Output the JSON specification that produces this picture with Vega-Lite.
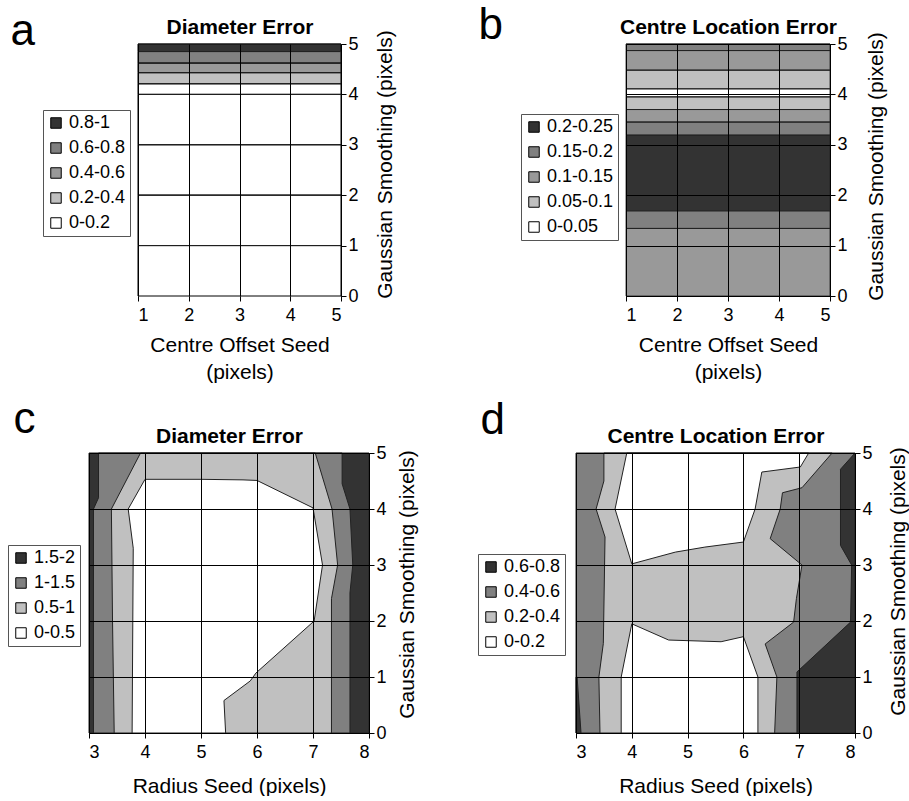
{
  "$schema": "https://vega.github.io/schema/vega-lite/v6.json",
  "background": "white",
  "padding": {"left": 7, "top": 4, "right": 0, "bottom": 0},
  "datasets": {
    "A": [
      {"x0": 1, "x1": 5, "y0": 4.85, "y1": 5, "cls": "0.8-1"},
      {"x0": 1, "x1": 5, "y0": 4.62, "y1": 4.85, "cls": "0.6-0.8"},
      {"x0": 1, "x1": 5, "y0": 4.43, "y1": 4.62, "cls": "0.4-0.6"},
      {"x0": 1, "x1": 5, "y0": 4.21, "y1": 4.43, "cls": "0.2-0.4"},
      {"x0": 1, "x1": 5, "y0": 4, "y1": 4.21, "cls": "0-0.2"},
      {"x0": 1, "x1": 5, "y0": 3, "y1": 4, "cls": "0-0.2"},
      {"x0": 1, "x1": 5, "y0": 2, "y1": 3, "cls": "0-0.2"},
      {"x0": 1, "x1": 5, "y0": 1, "y1": 2, "cls": "0-0.2"},
      {"x0": 1, "x1": 5, "y0": 0, "y1": 1, "cls": "0-0.2"}
    ],
    "B": [
      {"x0": 1, "x1": 5, "y0": 4.87, "y1": 5, "cls": "0.15-0.2"},
      {"x0": 1, "x1": 5, "y0": 4.48, "y1": 4.87, "cls": "0.1-0.15"},
      {"x0": 1, "x1": 5, "y0": 4.11, "y1": 4.48, "cls": "0.05-0.1"},
      {"x0": 1, "x1": 5, "y0": 3.95, "y1": 4.11, "cls": "0-0.05"},
      {"x0": 1, "x1": 5, "y0": 3.7, "y1": 3.95, "cls": "0.05-0.1"},
      {"x0": 1, "x1": 5, "y0": 3.45, "y1": 3.7, "cls": "0.1-0.15"},
      {"x0": 1, "x1": 5, "y0": 3.19, "y1": 3.45, "cls": "0.15-0.2"},
      {"x0": 1, "x1": 5, "y0": 1.69, "y1": 3.19, "cls": "0.2-0.25"},
      {"x0": 1, "x1": 5, "y0": 1.34, "y1": 1.69, "cls": "0.15-0.2"},
      {"x0": 1, "x1": 5, "y0": 0, "y1": 1.34, "cls": "0.1-0.15"}
    ],
    "C": [
      {"poly": "c_bg", "cls": "1.5-2", "i": 0, "x": 3, "y": 0},
      {"poly": "c_bg", "cls": "1.5-2", "i": 1, "x": 3, "y": 5},
      {"poly": "c_bg", "cls": "1.5-2", "i": 2, "x": 8, "y": 5},
      {"poly": "c_bg", "cls": "1.5-2", "i": 3, "x": 8, "y": 0},
      {"poly": "c_bg", "cls": "1.5-2", "i": 4, "x": 3, "y": 0},
      {"poly": "c_mid", "cls": "1-1.5", "i": 0, "x": 3.08, "y": 0},
      {"poly": "c_mid", "cls": "1-1.5", "i": 1, "x": 3.08, "y": 4.0},
      {"poly": "c_mid", "cls": "1-1.5", "i": 2, "x": 3.17, "y": 4.2},
      {"poly": "c_mid", "cls": "1-1.5", "i": 3, "x": 3.17, "y": 5},
      {"poly": "c_mid", "cls": "1-1.5", "i": 4, "x": 7.52, "y": 5},
      {"poly": "c_mid", "cls": "1-1.5", "i": 5, "x": 7.52, "y": 4.45},
      {"poly": "c_mid", "cls": "1-1.5", "i": 6, "x": 7.66, "y": 4.0},
      {"poly": "c_mid", "cls": "1-1.5", "i": 7, "x": 7.71, "y": 3.0},
      {"poly": "c_mid", "cls": "1-1.5", "i": 8, "x": 7.66, "y": 2.5},
      {"poly": "c_mid", "cls": "1-1.5", "i": 9, "x": 7.66, "y": 0},
      {"poly": "c_mid", "cls": "1-1.5", "i": 10, "x": 3.08, "y": 0},
      {"poly": "c_light", "cls": "0.5-1", "i": 0, "x": 3.45, "y": 0},
      {"poly": "c_light", "cls": "0.5-1", "i": 1, "x": 3.42, "y": 2.0},
      {"poly": "c_light", "cls": "0.5-1", "i": 2, "x": 3.4, "y": 4.0},
      {"poly": "c_light", "cls": "0.5-1", "i": 3, "x": 3.92, "y": 5},
      {"poly": "c_light", "cls": "0.5-1", "i": 4, "x": 7.04, "y": 5},
      {"poly": "c_light", "cls": "0.5-1", "i": 5, "x": 7.34, "y": 4.0},
      {"poly": "c_light", "cls": "0.5-1", "i": 6, "x": 7.44, "y": 3.0},
      {"poly": "c_light", "cls": "0.5-1", "i": 7, "x": 7.33, "y": 2.4},
      {"poly": "c_light", "cls": "0.5-1", "i": 8, "x": 7.33, "y": 0},
      {"poly": "c_light", "cls": "0.5-1", "i": 9, "x": 3.45, "y": 0},
      {"poly": "c_white", "cls": "0-0.5", "i": 0, "x": 3.77, "y": 0},
      {"poly": "c_white", "cls": "0-0.5", "i": 1, "x": 3.79, "y": 3.3},
      {"poly": "c_white", "cls": "0-0.5", "i": 2, "x": 3.7, "y": 4.0},
      {"poly": "c_white", "cls": "0-0.5", "i": 3, "x": 4.0, "y": 4.53},
      {"poly": "c_white", "cls": "0-0.5", "i": 4, "x": 5.0, "y": 4.53},
      {"poly": "c_white", "cls": "0-0.5", "i": 5, "x": 5.75, "y": 4.52},
      {"poly": "c_white", "cls": "0-0.5", "i": 6, "x": 6.0, "y": 4.51},
      {"poly": "c_white", "cls": "0-0.5", "i": 7, "x": 7.0, "y": 4.02},
      {"poly": "c_white", "cls": "0-0.5", "i": 8, "x": 7.17, "y": 3.0},
      {"poly": "c_white", "cls": "0-0.5", "i": 9, "x": 7.02, "y": 2.0},
      {"poly": "c_white", "cls": "0-0.5", "i": 10, "x": 5.98, "y": 1.07},
      {"poly": "c_white", "cls": "0-0.5", "i": 11, "x": 5.88, "y": 0.93},
      {"poly": "c_white", "cls": "0-0.5", "i": 12, "x": 5.41, "y": 0.58},
      {"poly": "c_white", "cls": "0-0.5", "i": 13, "x": 5.44, "y": 0},
      {"poly": "c_white", "cls": "0-0.5", "i": 14, "x": 3.77, "y": 0}
    ],
    "D": [
      {"poly": "d_bg", "cls": "0.4-0.6", "i": 0, "x": 3, "y": 0},
      {"poly": "d_bg", "cls": "0.4-0.6", "i": 1, "x": 3, "y": 5},
      {"poly": "d_bg", "cls": "0.4-0.6", "i": 2, "x": 8, "y": 5},
      {"poly": "d_bg", "cls": "0.4-0.6", "i": 3, "x": 8, "y": 0},
      {"poly": "d_bg", "cls": "0.4-0.6", "i": 4, "x": 3, "y": 0},
      {"poly": "d_dark1", "cls": "0.6-0.8", "i": 0, "x": 6.96, "y": 0},
      {"poly": "d_dark1", "cls": "0.6-0.8", "i": 1, "x": 6.96, "y": 1.09},
      {"poly": "d_dark1", "cls": "0.6-0.8", "i": 2, "x": 7.92, "y": 1.98},
      {"poly": "d_dark1", "cls": "0.6-0.8", "i": 3, "x": 7.94, "y": 3.0},
      {"poly": "d_dark1", "cls": "0.6-0.8", "i": 4, "x": 7.74, "y": 3.35},
      {"poly": "d_dark1", "cls": "0.6-0.8", "i": 5, "x": 7.74, "y": 4.71},
      {"poly": "d_dark1", "cls": "0.6-0.8", "i": 6, "x": 8, "y": 5},
      {"poly": "d_dark1", "cls": "0.6-0.8", "i": 7, "x": 8, "y": 0},
      {"poly": "d_dark1", "cls": "0.6-0.8", "i": 8, "x": 6.96, "y": 0},
      {"poly": "d_dark2", "cls": "0.6-0.8", "i": 0, "x": 3, "y": 0},
      {"poly": "d_dark2", "cls": "0.6-0.8", "i": 1, "x": 3.09, "y": 0},
      {"poly": "d_dark2", "cls": "0.6-0.8", "i": 2, "x": 3.02, "y": 1.0},
      {"poly": "d_dark2", "cls": "0.6-0.8", "i": 3, "x": 3, "y": 1.0},
      {"poly": "d_dark2", "cls": "0.6-0.8", "i": 4, "x": 3, "y": 0},
      {"poly": "d_light", "cls": "0.2-0.4", "i": 0, "x": 3.43, "y": 0},
      {"poly": "d_light", "cls": "0.2-0.4", "i": 1, "x": 3.41, "y": 1.0},
      {"poly": "d_light", "cls": "0.2-0.4", "i": 2, "x": 3.49, "y": 1.6},
      {"poly": "d_light", "cls": "0.2-0.4", "i": 3, "x": 3.52, "y": 3.5},
      {"poly": "d_light", "cls": "0.2-0.4", "i": 4, "x": 3.36, "y": 4.0},
      {"poly": "d_light", "cls": "0.2-0.4", "i": 5, "x": 3.5, "y": 4.5},
      {"poly": "d_light", "cls": "0.2-0.4", "i": 6, "x": 3.5, "y": 5},
      {"poly": "d_light", "cls": "0.2-0.4", "i": 7, "x": 7.59, "y": 5},
      {"poly": "d_light", "cls": "0.2-0.4", "i": 8, "x": 7.05, "y": 4.38},
      {"poly": "d_light", "cls": "0.2-0.4", "i": 9, "x": 6.7, "y": 4.29},
      {"poly": "d_light", "cls": "0.2-0.4", "i": 10, "x": 6.66, "y": 4.0},
      {"poly": "d_light", "cls": "0.2-0.4", "i": 11, "x": 6.48, "y": 3.47},
      {"poly": "d_light", "cls": "0.2-0.4", "i": 12, "x": 7.05, "y": 3.0},
      {"poly": "d_light", "cls": "0.2-0.4", "i": 13, "x": 6.95, "y": 2.4},
      {"poly": "d_light", "cls": "0.2-0.4", "i": 14, "x": 6.9, "y": 1.98},
      {"poly": "d_light", "cls": "0.2-0.4", "i": 15, "x": 6.39, "y": 1.59},
      {"poly": "d_light", "cls": "0.2-0.4", "i": 16, "x": 6.6, "y": 1.0},
      {"poly": "d_light", "cls": "0.2-0.4", "i": 17, "x": 6.56, "y": 0},
      {"poly": "d_light", "cls": "0.2-0.4", "i": 18, "x": 3.43, "y": 0},
      {"poly": "d_white1", "cls": "0-0.2", "i": 0, "x": 3.91, "y": 5},
      {"poly": "d_white1", "cls": "0-0.2", "i": 1, "x": 3.7, "y": 4.0},
      {"poly": "d_white1", "cls": "0-0.2", "i": 2, "x": 4.0, "y": 3.02},
      {"poly": "d_white1", "cls": "0-0.2", "i": 3, "x": 4.78, "y": 3.23},
      {"poly": "d_white1", "cls": "0-0.2", "i": 4, "x": 5.31, "y": 3.32},
      {"poly": "d_white1", "cls": "0-0.2", "i": 5, "x": 6.0, "y": 3.41},
      {"poly": "d_white1", "cls": "0-0.2", "i": 6, "x": 6.21, "y": 4.0},
      {"poly": "d_white1", "cls": "0-0.2", "i": 7, "x": 6.33, "y": 4.66},
      {"poly": "d_white1", "cls": "0-0.2", "i": 8, "x": 7.02, "y": 4.75},
      {"poly": "d_white1", "cls": "0-0.2", "i": 9, "x": 7.17, "y": 5},
      {"poly": "d_white1", "cls": "0-0.2", "i": 10, "x": 3.91, "y": 5},
      {"poly": "d_white2", "cls": "0-0.2", "i": 0, "x": 3.81, "y": 0},
      {"poly": "d_white2", "cls": "0-0.2", "i": 1, "x": 3.81, "y": 1.0},
      {"poly": "d_white2", "cls": "0-0.2", "i": 2, "x": 4.0, "y": 1.95},
      {"poly": "d_white2", "cls": "0-0.2", "i": 3, "x": 4.66, "y": 1.66},
      {"poly": "d_white2", "cls": "0-0.2", "i": 4, "x": 5.6, "y": 1.63},
      {"poly": "d_white2", "cls": "0-0.2", "i": 5, "x": 6.0, "y": 1.72},
      {"poly": "d_white2", "cls": "0-0.2", "i": 6, "x": 6.26, "y": 1.0},
      {"poly": "d_white2", "cls": "0-0.2", "i": 7, "x": 6.26, "y": 0},
      {"poly": "d_white2", "cls": "0-0.2", "i": 8, "x": 3.81, "y": 0}
    ]
  },
  "concat": [
    {
      "hconcat": [
        {
          "width": 252, "height": 252,
          "title": {"text": "a", "dx": -32, "offset": -38},
          "data": {"name": "A"},
          "layer": [
            {
              "mark": {"type": "rect", "stroke": "#000", "strokeWidth": 1},
              "encoding": {
                "x": {"field": "x0", "type": "quantitative", "scale": {"domain": [1, 5], "range": [49, 252], "nice": false, "zero": false},
                      "axis": {"orient": "bottom", "values": [1, 2, 3, 4, 5], "title": ["Centre Offset Seed", "(pixels)"], "grid": true, "domain": false, "zindex": 1, "labelPadding": 5}},
                "x2": {"field": "x1"},
                "y": {"field": "y0", "type": "quantitative", "scale": {"domain": [0, 5], "nice": false, "zero": false},
                      "axis": {"orient": "right", "values": [0, 1, 2, 3, 4, 5], "title": "Gaussian Smoothing (pixels)", "grid": false, "zindex": 1, "titleAngle": 270, "titleBaseline": "top", "titlePadding": 16, "titleY": 120}},
                "y2": {"field": "y1"},
                "fill": {"field": "cls", "type": "nominal",
                         "scale": {"domain": ["0.8-1", "0.6-0.8", "0.4-0.6", "0.2-0.4", "0-0.2"], "range": ["#333333", "#808080", "#999999", "#c0c0c0", "#ffffff"]},
                         "legend": {"title": null, "orient": "none", "legendX": -46, "legendY": 66}}
              }
            },
            {
              "mark": {"type": "rule", "stroke": "#222", "strokeWidth": 1},
              "encoding": {
                "x": {"field": "x0", "type": "quantitative",
                      "axis": {"orient": "top", "title": "Diameter Error", "labels": false, "ticks": false, "domain": false, "grid": false, "titleFontWeight": "bold", "titlePadding": 7}},
                "x2": {"field": "x1"},
                "y": {"field": "y1", "type": "quantitative"}
              }
            }
          ],
          "resolve": {"axis": {"x": "independent"}}
        },
        {
          "width": 204, "height": 252,
          "title": {"text": "b", "dx": -42, "offset": -32},
          "data": {"name": "B"},
          "layer": [
            {
              "mark": {"type": "rect", "stroke": "#222", "strokeWidth": 0.8},
              "encoding": {
                "x": {"field": "x0", "type": "quantitative", "scale": {"domain": [1, 5], "nice": false, "zero": false},
                      "axis": {"orient": "bottom", "values": [1, 2, 3, 4, 5], "title": ["Centre Offset Seed", "(pixels)"], "grid": true, "zindex": 1, "labelPadding": 5}},
                "x2": {"field": "x1"},
                "y": {"field": "y0", "type": "quantitative", "scale": {"domain": [0, 5], "nice": false, "zero": false},
                      "axis": {"orient": "right", "values": [0, 1, 2, 3, 4, 5], "title": "Gaussian Smoothing (pixels)", "grid": true, "zindex": 1, "titleAngle": 270, "titleBaseline": "top", "titlePadding": 18, "titleY": 122}},
                "y2": {"field": "y1"},
                "fill": {"field": "cls", "type": "nominal",
                         "scale": {"domain": ["0.2-0.25", "0.15-0.2", "0.1-0.15", "0.05-0.1", "0-0.05"], "range": ["#333333", "#808080", "#999999", "#c0c0c0", "#ffffff"]},
                         "legend": {"title": null, "orient": "none", "legendX": -105, "legendY": 70}}
              }
            },
            {
              "mark": {"type": "rule", "stroke": "#222", "strokeWidth": 1},
              "encoding": {
                "x": {"field": "x0", "type": "quantitative",
                      "axis": {"orient": "top", "title": "Centre Location Error", "labels": false, "ticks": false, "domain": false, "grid": false, "titleFontWeight": "bold", "titlePadding": 7}},
                "x2": {"field": "x1"},
                "y": {"field": "y1", "type": "quantitative"}
              }
            }
          ],
          "resolve": {"axis": {"x": "independent"}}
        }
      ],
      "spacing": 82,
      "resolve": {"scale": {"fill": "independent"}, "legend": {"fill": "independent"}}
    },
    {
      "hconcat": [
        {
          "width": 280, "height": 280,
          "title": {"text": "c", "dx": 6, "offset": -17},
          "data": {"name": "C"},
          "encoding": {
            "y": {"field": "y", "type": "quantitative", "scale": {"domain": [0, 5], "nice": false, "zero": false},
                  "axis": {"orient": "right", "values": [0, 1, 2, 3, 4, 5], "title": "Gaussian Smoothing (pixels)", "grid": true, "zindex": 1, "titleAngle": 270, "titleBaseline": "top", "titlePadding": 10, "titleY": 131}},
            "order": {"field": "i", "type": "quantitative"},
            "detail": {"field": "poly", "type": "nominal"},
            "fill": {"field": "cls", "type": "nominal",
                     "scale": {"domain": ["1.5-2", "1-1.5", "0.5-1", "0-0.5"], "range": ["#333333", "#808080", "#c0c0c0", "#ffffff"]},
                     "legend": {"title": null, "orient": "none", "legendX": -81, "legendY": 92, "symbolType": "square"}}
          },
          "layer": [
            {
              "transform": [{"filter": "datum.cls == '1.5-2'"}],
              "mark": {"type": "line", "stroke": "#222", "strokeWidth": 1},
              "encoding": {
                "x": {"field": "x", "type": "quantitative", "scale": {"domain": [3, 8], "nice": false, "zero": false},
                      "axis": {"orient": "bottom", "values": [3, 4, 5, 6, 7, 8], "title": "Radius Seed  (pixels)", "grid": true, "zindex": 1, "labelPadding": 5, "titlePadding": 14}}
              }
            },
            {
              "transform": [{"filter": "datum.cls == '1-1.5'"}],
              "mark": {"type": "line", "stroke": "#222", "strokeWidth": 1},
              "encoding": {
                "x": {"field": "x", "type": "quantitative",
                      "axis": {"orient": "top", "title": "Diameter Error", "labels": false, "ticks": false, "domain": false, "grid": false, "titleFontWeight": "bold", "titlePadding": 7}}
              }
            },
            {
              "transform": [{"filter": "datum.cls == '0.5-1'"}],
              "mark": {"type": "line", "stroke": "#222", "strokeWidth": 1},
              "encoding": {"x": {"field": "x", "type": "quantitative", "axis": null}}
            },
            {
              "transform": [{"filter": "datum.cls == '0-0.5'"}],
              "mark": {"type": "line", "stroke": "#222", "strokeWidth": 1},
              "encoding": {"x": {"field": "x", "type": "quantitative", "axis": null}}
            }
          ],
          "resolve": {"axis": {"x": "independent"}}
        },
        {
          "width": 279, "height": 280,
          "title": {"text": "d", "dx": 3, "offset": -18},
          "data": {"name": "D"},
          "encoding": {
            "y": {"field": "y", "type": "quantitative", "scale": {"domain": [0, 5], "nice": false, "zero": false},
                  "axis": {"orient": "right", "values": [0, 1, 2, 3, 4, 5], "title": "Gaussian Smoothing (pixels)", "grid": true, "zindex": 1, "titleAngle": 270, "titleBaseline": "top", "titlePadding": 15, "titleY": 128}},
            "order": {"field": "i", "type": "quantitative"},
            "detail": {"field": "poly", "type": "nominal"},
            "fill": {"field": "cls", "type": "nominal",
                     "scale": {"domain": ["0.6-0.8", "0.4-0.6", "0.2-0.4", "0-0.2"], "range": ["#333333", "#808080", "#c0c0c0", "#ffffff"]},
                     "legend": {"title": null, "orient": "none", "legendX": -98, "legendY": 101, "symbolType": "square"}}
          },
          "layer": [
            {
              "transform": [{"filter": "datum.cls == '0.4-0.6'"}],
              "mark": {"type": "line", "stroke": "#222", "strokeWidth": 1},
              "encoding": {
                "x": {"field": "x", "type": "quantitative", "scale": {"domain": [3, 8], "nice": false, "zero": false},
                      "axis": {"orient": "bottom", "values": [3, 4, 5, 6, 7, 8], "title": "Radius Seed (pixels)", "grid": true, "zindex": 1, "labelPadding": 5, "titlePadding": 14}}
              }
            },
            {
              "transform": [{"filter": "datum.cls == '0.6-0.8'"}],
              "mark": {"type": "line", "stroke": "#222", "strokeWidth": 1},
              "encoding": {
                "x": {"field": "x", "type": "quantitative",
                      "axis": {"orient": "top", "title": "Centre Location Error", "labels": false, "ticks": false, "domain": false, "grid": false, "titleFontWeight": "bold", "titlePadding": 7}}
              }
            },
            {
              "transform": [{"filter": "datum.cls == '0.2-0.4'"}],
              "mark": {"type": "line", "stroke": "#222", "strokeWidth": 1},
              "encoding": {"x": {"field": "x", "type": "quantitative", "axis": null}}
            },
            {
              "transform": [{"filter": "datum.cls == '0-0.2'"}],
              "mark": {"type": "line", "stroke": "#222", "strokeWidth": 1},
              "encoding": {"x": {"field": "x", "type": "quantitative", "axis": null}}
            }
          ],
          "resolve": {"axis": {"x": "independent"}}
        }
      ],
      "spacing": 59,
      "resolve": {"scale": {"fill": "independent"}, "legend": {"fill": "independent"}}
    }
  ],
  "columns": 1,
  "spacing": 16,
  "resolve": {"scale": {"fill": "independent"}, "legend": {"fill": "independent"}},
  "config": {
    "font": "Liberation Sans",
    "view": {"stroke": null},
    "axis": {
      "labelFont": "Liberation Sans", "titleFont": "Liberation Sans",
      "labelFontSize": 18, "titleFontSize": 21, "titleFontWeight": "normal", "titleLineHeight": 27,
      "labelColor": "#000", "titleColor": "#000", "titlePadding": 10,
      "domainColor": "#000", "tickColor": "#000", "gridColor": "#000", "gridOpacity": 1,
      "gridWidth": 1, "domainWidth": 1, "tickSize": 5, "labelPadding": 2
    },
    "legend": {
      "labelFont": "Liberation Sans", "labelFontSize": 18, "labelColor": "#000",
      "symbolType": "square", "symbolSize": 110, "symbolStrokeColor": "#000", "symbolStrokeWidth": 1,
      "strokeColor": "#555", "fillColor": "#fff", "padding": 4, "rowPadding": 7, "labelOffset": 4
    },
    "title": {
      "font": "Liberation Sans", "fontSize": 44, "fontWeight": "normal", "color": "#000",
      "anchor": "start", "frame": "bounds", "baseline": "alphabetic"
    }
  }
}
